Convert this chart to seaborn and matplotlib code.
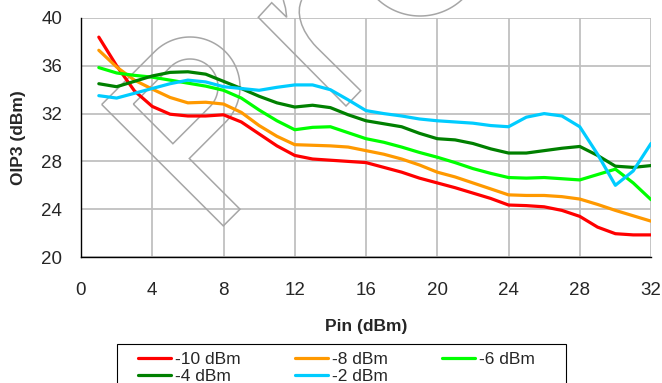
import numpy as np
import pandas as pd
import matplotlib
matplotlib.use("Agg")
import matplotlib.pyplot as plt
from matplotlib.path import Path
from matplotlib.patches import PathPatch, Rectangle
from matplotlib.lines import Line2D
from matplotlib.transforms import Affine2D
import seaborn as sns

# Input power sweep (dBm)
pin_dbm = list(range(1, 33))

# OIP3 (dBm) for each control level
oip3_m10 = [38.4, 36.0, 33.9, 32.6, 31.95, 31.8, 31.8, 31.9, 31.3, 30.3,
            29.3, 28.5, 28.2, 28.1, 28.0, 27.9, 27.5, 27.1, 26.6, 26.2,
            25.8, 25.35, 24.9, 24.35, 24.3, 24.2, 23.9, 23.4, 22.5, 21.95,
            21.85, 21.85]
oip3_m8 = [37.3, 35.9, 34.8, 34.05, 33.35, 32.9, 32.95, 32.8, 32.1, 31.0,
           30.1, 29.4, 29.35, 29.3, 29.2, 28.9, 28.6, 28.2, 27.7, 27.1,
           26.7, 26.2, 25.7, 25.2, 25.15, 25.15, 25.05, 24.85, 24.4, 23.9,
           23.45, 23.0]
oip3_m6 = [35.85, 35.4, 35.2, 35.05, 34.8, 34.55, 34.3, 33.95, 33.3, 32.3,
           31.4, 30.65, 30.85, 30.9, 30.4, 29.9, 29.6, 29.2, 28.75, 28.35,
           27.9, 27.4, 27.0, 26.65, 26.6, 26.65, 26.55, 26.45, 26.9, 27.35,
           26.2, 24.8]
oip3_m4 = [34.5, 34.25, 34.7, 35.15, 35.45, 35.5, 35.3, 34.7, 34.1, 33.45,
           32.9, 32.55, 32.7, 32.5, 31.9, 31.4, 31.15, 30.9, 30.35, 29.9,
           29.8, 29.5, 29.05, 28.7, 28.7, 28.9, 29.1, 29.25, 28.5, 27.6,
           27.5, 27.65]
oip3_m2 = [33.5, 33.3, 33.7, 34.1, 34.5, 34.8, 34.65, 34.25, 34.1, 33.95,
           34.2, 34.4, 34.4, 34.0, 33.15, 32.25, 32.0, 31.8, 31.55, 31.4,
           31.3, 31.2, 31.0, 30.9, 31.7, 32.0, 31.8, 30.9, 28.6, 26.0,
           27.2, 29.5]

series_labels = ["-10 dBm", "-8 dBm", "-6 dBm", "-4 dBm", "-2 dBm"]
series_values = [oip3_m10, oip3_m8, oip3_m6, oip3_m4, oip3_m2]
series_colors = ["#FF0000", "#FF9900", "#00FF00", "#008000", "#00CCFF"]

x_ticks = [0, 4, 8, 12, 16, 20, 24, 28, 32]
y_ticks = [20, 24, 28, 32, 36, 40]

frames = []
for label, vals in zip(series_labels, series_values):
    frames.append(pd.DataFrame({"Pin": pin_dbm, "OIP3": vals, "Level": label}))
df = pd.concat(frames, ignore_index=True)

sns.set_style("white")
plt.rcParams["font.family"] = ["Liberation Sans", "DejaVu Sans"]

W, H = 662, 383
fig = plt.figure(figsize=(W / 100, H / 100), dpi=100)
ax = fig.add_axes([81 / W, 1 - 257 / H, 570 / W, 239 / H])

palette = dict(zip(series_labels, series_colors))
sns.lineplot(data=df, x="Pin", y="OIP3", hue="Level", hue_order=series_labels,
             palette=palette, linewidth=2.3, estimator=None, sort=False,
             legend=False, ax=ax, zorder=3)

ax.set_xlim(0, 32)
ax.set_ylim(20, 40)
ax.set_xticks(x_ticks)
ax.set_yticks(y_ticks)
ax.grid(True, color="#C0C0C0", linewidth=1.3)
ax.set_axisbelow(True)
for side in ("top", "right"):
    ax.spines[side].set_visible(False)
for side in ("left", "bottom"):
    ax.spines[side].set_color("black")
    ax.spines[side].set_linewidth(1.0)
    ax.spines[side].set_zorder(4)
ax.tick_params(axis="x", length=4, width=1, color="black", pad=14, labelsize=13.5)
ax.tick_params(axis="y", length=5, width=1, color="black", pad=8.5, labelsize=13.5)

ax.set_xlabel("Pin (dBm)", fontweight="bold", fontsize=12.5)
ax.set_ylabel("OIP3 (dBm)", fontweight="bold", fontsize=12.5)
ax.xaxis.label.set_va("center")
ax.yaxis.label.set_va("center")
ax.xaxis.set_label_coords(0.5, (257 - 326) / 239)
ax.yaxis.set_label_coords((19 - 81) / 570, 0.5)

# Outline logo drawn in pixel space behind the curves
px_tr = Affine2D().scale(1 / 100, -1 / 100).translate(0, H / 100) + fig.dpi_scale_trans
wm_kw = dict(facecolor="none", edgecolor="#A6A6A6", linewidth=1.1,
             transform=px_tr, clip_on=False, zorder=2)


def arc_pts(cx, cy, r, a0, a1, n=60):
    t = np.radians(np.linspace(a0, a1, n))
    return list(zip(cx + r * np.cos(t), cy + r * np.sin(t)))


c = (190.0, 87.0)
outer = [(101.7, 104.5)] + arc_pts(c[0], c[1], 50, 225, 405) + \
    [(189.3, 158.5), (240.0, 209.2), (223.3, 225.9), (101.7, 104.5)]
inner = [(133.3, 104.1)] + arc_pts(c[0], c[1], 28, 225, 405) + \
    [(172.9, 143.7), (133.3, 104.1)]
for pts in (outer, inner):
    ax.add_patch(PathPatch(Path(pts), **wm_kw))

stem_verts = [(283.3, 0.0), (285.5, 8.0), (286.7, 17.3), (271.7, 2.7),
              (258.3, 17.3), (346.0, 106.0), (360.7, 90.7), (316.7, 47.3),
              (300.0, 30.0), (296.0, 12.0), (301.7, 0.0)]
stem_codes = [Path.MOVETO, Path.LINETO, Path.LINETO, Path.LINETO,
              Path.LINETO, Path.LINETO, Path.LINETO, Path.LINETO,
              Path.CURVE4, Path.CURVE4, Path.CURVE4]
ax.add_patch(PathPatch(Path(stem_verts, stem_codes), **wm_kw))
ax.add_patch(PathPatch(Path(arc_pts(420, -46, 62, 30, 150)), **wm_kw))

# Legend laid out row by row in three columns
handles = [Line2D([], [], color=col, linewidth=2.3) for col in series_colors]
order = [0, 3, 1, 4, 2]
fig.legend([handles[i] for i in order], [series_labels[i] for i in order],
           loc="upper left", bbox_to_anchor=(138 / W, 1 - 352 / H), ncol=3,
           frameon=False, fontsize=12.5, handlelength=1.9, handletextpad=0.25,
           columnspacing=3.1, borderpad=0, borderaxespad=0, labelspacing=0.12)
fig.add_artist(Rectangle((117 / W, -0.05), (566 - 117) / W, 0.05 + 1 - 344 / H,
                         fill=False, edgecolor="black", linewidth=0.8,
                         transform=fig.transFigure))

fig.savefig("out.png", dpi=100)
